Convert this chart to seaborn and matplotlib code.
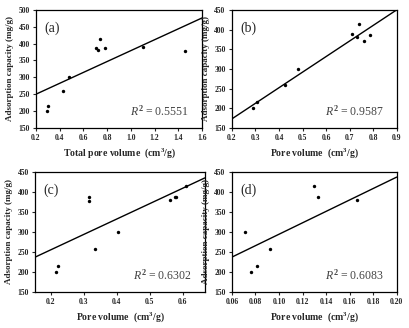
import matplotlib
matplotlib.use("Agg")
import matplotlib.pyplot as plt
import numpy as np
import pandas as pd
import seaborn as sns

# data
a_x = [0.29, 0.30, 0.43, 0.48, 0.71, 0.72, 0.74, 0.78, 1.10, 1.46]
a_y = [200, 216, 258, 300, 388, 381, 415, 387, 390, 377]
b_x = [0.29, 0.305, 0.425, 0.48, 0.71, 0.73, 0.74, 0.76, 0.785]
b_y = [200, 216, 258, 300, 388, 381, 415, 370, 386]
c_x = [0.215, 0.222, 0.315, 0.315, 0.335, 0.405, 0.56, 0.575, 0.58, 0.61]
c_y = [200, 216, 377, 388, 258, 300, 380, 388, 387, 415]
d_x = [0.071, 0.076, 0.081, 0.092, 0.130, 0.133, 0.166]
d_y = [300, 200, 216, 258, 415, 388, 380]

# trend lines as drawn in the reference (ends at the axis edges)
a_fit_x, a_fit_y = [0.2, 1.6], [250, 476]
b_fit_x, b_fit_y = [0.2, 0.9], [173, 450]
c_fit_x, c_fit_y = [0.153, 0.667], [237, 435]
d_fit_x, d_fit_y = [0.06, 0.20], [237, 437]

panels = ["(a)", "(b)", "(c)", "(d)"]
r2_text = ["0.5551", "0.9587", "0.6302", "0.6083"]
xlabels = ["Total pore volume  (cm$^3$/g)", "Pore volume  (cm$^3$/g)",
           "Pore volume  (cm$^3$/g)", "Pore volume  (cm$^3$/g)"]
xlims = [(0.2, 1.6), (0.2, 0.9), (0.153, 0.667), (0.06, 0.20)]
xticks = [np.arange(0.2, 1.61, 0.2), np.arange(0.2, 0.91, 0.1),
          np.arange(0.2, 0.61, 0.1), np.arange(0.06, 0.201, 0.02)]
xfmt = ["%.1f", "%.1f", "%.1f", "%.2f"]
ylims = [(150, 500), (150, 450), (150, 450), (150, 450)]

sns.set_style("ticks")
plt.rcParams["font.family"] = ["Liberation Serif", "DejaVu Serif"]
plt.rcParams["mathtext.fontset"] = "custom"
plt.rcParams["mathtext.rm"] = "Liberation Serif:bold"
plt.rcParams["mathtext.it"] = "Liberation Serif:italic"

fig = plt.figure(figsize=(4.09, 3.28), dpi=100)
boxes = [[0.088, 0.610, 0.406, 0.360], [0.567, 0.610, 0.403, 0.360],
         [0.086, 0.110, 0.415, 0.366], [0.567, 0.110, 0.403, 0.366]]
data = [(a_x, a_y), (b_x, b_y), (c_x, c_y), (d_x, d_y)]
fits = [(a_fit_x, a_fit_y), (b_fit_x, b_fit_y), (c_fit_x, c_fit_y), (d_fit_x, d_fit_y)]

for i, (xs, ys) in enumerate(data):
    ax = fig.add_axes(boxes[i])
    df = pd.DataFrame({"x": xs, "y": ys})
    sns.scatterplot(data=df, x="x", y="y", ax=ax, color="black", s=6,
                    linewidth=0, zorder=3)
    fit = pd.DataFrame({"x": fits[i][0], "y": fits[i][1]})
    sns.lineplot(data=fit, x="x", y="y", ax=ax, color="black", lw=1.0)
    ax.set_xlim(*xlims[i])
    ax.set_ylim(*ylims[i])
    ax.set_xticks(xticks[i])
    ax.set_xticklabels([xfmt[i] % t for t in xticks[i]])
    ax.set_yticks(np.arange(ylims[i][0], ylims[i][1] + 1, 50))
    ax.tick_params(labelsize=5.5, length=2, width=0.8, pad=2.5)
    for lab in ax.get_xticklabels() + ax.get_yticklabels():
        lab.set_fontweight("bold")
    for sp in ax.spines.values():
        sp.set_visible(True)
        sp.set_linewidth(0.9)
        sp.set_color("black")
    ax.set_xlabel(xlabels[i], fontsize=7, fontweight="bold", labelpad=3)
    ax.set_ylabel("Adsorption capacity (mg/g)", fontsize=6.5, fontweight="bold", labelpad=3)
    ax.text(0.05, 0.9, panels[i], transform=ax.transAxes, fontsize=10,
            va="top", ha="left")
    ax.text(0.92, 0.08, "$R^2$ = " + r2_text[i], transform=ax.transAxes,
            fontsize=8.5, ha="right", va="bottom", color="#444444",
            family="Liberation Serif")

fig.savefig("out.png", dpi=100)
